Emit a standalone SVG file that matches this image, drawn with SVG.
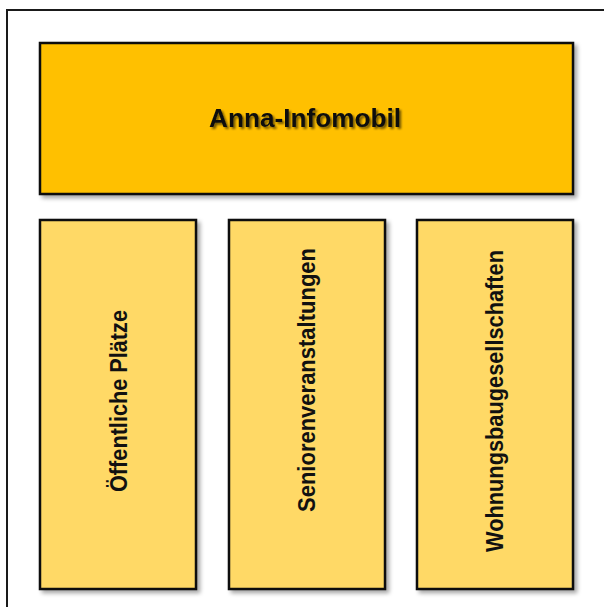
<svg xmlns="http://www.w3.org/2000/svg" width="604" height="607" viewBox="0 0 604 607">
  <style>
    .frame { fill: none; stroke: #1a1a1a; stroke-width: 2; }
    .box { stroke: #111; stroke-width: 2.5; filter: url(#shadow); }
    .top { fill: #FFC000; }
    .sub { fill: #FFD966; }
    .label { font-family: "Liberation Sans", Arial, sans-serif; font-weight: bold; fill: #111; }
    .title { font-size: 26px; filter: url(#tshadow); }
    .vert { font-size: 23px; }
  </style>
  <defs>
    <filter id="shadow" x="-10%" y="-10%" width="125%" height="125%">
      <feGaussianBlur in="SourceAlpha" stdDeviation="2"/>
      <feOffset dx="3" dy="3" result="b"/>
      <feComponentTransfer><feFuncA type="linear" slope="0.35"/></feComponentTransfer>
      <feMerge><feMergeNode/><feMergeNode in="SourceGraphic"/></feMerge>
    </filter>
    <filter id="tshadow" x="-10%" y="-30%" width="120%" height="160%">
      <feGaussianBlur in="SourceAlpha" stdDeviation="1.2"/>
      <feOffset dx="2" dy="2" result="b"/>
      <feComponentTransfer><feFuncA type="linear" slope="0.55"/></feComponentTransfer>
      <feMerge><feMergeNode/><feMergeNode in="SourceGraphic"/></feMerge>
    </filter>
  </defs>
  <rect width="604" height="607" fill="#fff"/>
  <rect class="frame" x="7" y="10" width="640" height="640"/>

  <g id="anna-infomobil">
    <rect class="box top" x="40" y="43" width="533" height="151"/>
    <text class="label title" x="305" y="127" text-anchor="middle" textLength="192" lengthAdjust="spacingAndGlyphs">Anna-Infomobil</text>
  </g>

  <g id="oeffentliche-plaetze">
    <rect class="box sub" x="40" y="220" width="156" height="369"/>
    <text class="label vert" transform="translate(127 492) rotate(-90)" textLength="182" lengthAdjust="spacingAndGlyphs">Öffentliche Plätze</text>
  </g>

  <g id="seniorenveranstaltungen">
    <rect class="box sub" x="229" y="220" width="156" height="369"/>
    <text class="label vert" transform="translate(315 512) rotate(-90)" textLength="264" lengthAdjust="spacingAndGlyphs">Seniorenveranstaltungen</text>
  </g>

  <g id="wohnungsbaugesellschaften">
    <rect class="box sub" x="417" y="220" width="156" height="369"/>
    <text class="label vert" transform="translate(503 552) rotate(-90)" textLength="302" lengthAdjust="spacingAndGlyphs">Wohnungsbaugesellschaften</text>
  </g>

  <g id="connectors"/>
</svg>
